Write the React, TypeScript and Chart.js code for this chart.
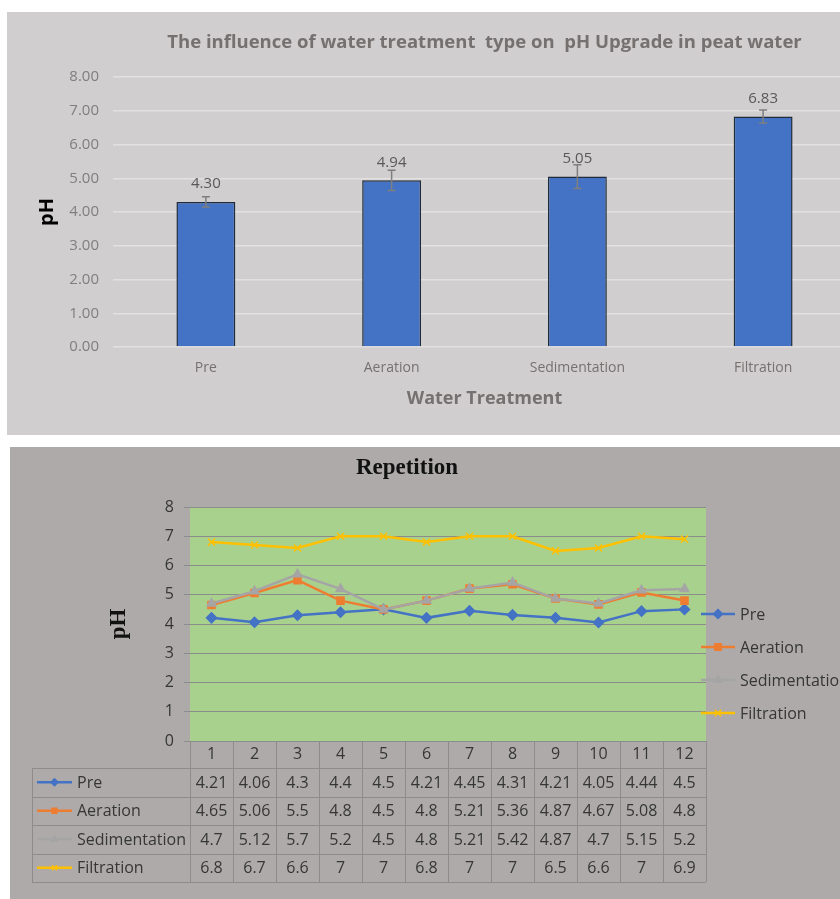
import { useEffect, useRef } from 'react';
import { Chart, registerables } from 'chart.js';
import { drawPoint } from 'chart.js/helpers';
Chart.register(...registerables);

// ---------- Top chart data ----------
const treatments = ['Pre', 'Aeration', 'Sedimentation', 'Filtration'];
const meanPH = [4.30, 4.94, 5.05, 6.83];
const errorPH = [0.15, 0.30, 0.35, 0.19];
const topTitle = 'The influence of water treatment  type on  pH Upgrade in peat water';

// ---------- Bottom chart data ----------
const repetitions = ['1', '2', '3', '4', '5', '6', '7', '8', '9', '10', '11', '12'];
const prePH = [4.21, 4.06, 4.3, 4.4, 4.5, 4.21, 4.45, 4.31, 4.21, 4.05, 4.44, 4.5];
const aerationPH = [4.65, 5.06, 5.5, 4.8, 4.5, 4.8, 5.21, 5.36, 4.87, 4.67, 5.08, 4.8];
const sedimentationPH = [4.7, 5.12, 5.7, 5.2, 4.5, 4.8, 5.21, 5.42, 4.87, 4.7, 5.15, 5.2];
const filtrationPH = [6.8, 6.7, 6.6, 7, 7, 6.8, 7, 7, 6.5, 6.6, 7, 6.9];
const seriesNames = ['Pre', 'Aeration', 'Sedimentation', 'Filtration'];
const seriesColors = ['#4472C4', '#ED7D31', '#A5A5A5', '#FFC000'];
const seriesMarkers = ['rectRot', 'rect', 'triangle', 'crossRot'];
const seriesData = [prePH, aerationPH, sedimentationPH, filtrationPH];

const SANS = "'Open Sans', sans-serif";
const SERIF = "'Liberation Serif', serif";

const errorBarPlugin = {
  id: 'errorBars',
  afterDatasetsDraw(chart: any) {
    const { ctx } = chart;
    const ys = chart.scales.y;
    const meta = chart.getDatasetMeta(0);
    ctx.save();
    meta.data.forEach((bar: any, i: number) => {
      const x = bar.x;
      const yTop = ys.getPixelForValue(meanPH[i] + errorPH[i]);
      const yBot = ys.getPixelForValue(meanPH[i] - errorPH[i]);
      ctx.strokeStyle = '#7f7f7f';
      ctx.lineWidth = 1.5;
      ctx.beginPath();
      ctx.moveTo(x, yTop); ctx.lineTo(x, yBot);
      ctx.moveTo(x - 4, yTop); ctx.lineTo(x + 4, yTop);
      ctx.moveTo(x - 4, yBot); ctx.lineTo(x + 4, yBot);
      ctx.stroke();
      ctx.fillStyle = '#595959';
      ctx.font = `15px ${SANS}`;
      ctx.textAlign = 'center';
      ctx.textBaseline = 'middle';
      ctx.fillText(meanPH[i].toFixed(2), x, bar.y - 18);
    });
    ctx.restore();
  },
};

function drawKey(ctx: CanvasRenderingContext2D, i: number, x0: number, x1: number, y: number, r: number, lw: number) {
  ctx.save();
  ctx.strokeStyle = seriesColors[i];
  ctx.fillStyle = seriesColors[i];
  ctx.lineWidth = lw;
  ctx.beginPath();
  ctx.moveTo(x0, y); ctx.lineTo(x1, y);
  ctx.stroke();
  ctx.lineWidth = 1.5;
  drawPoint(ctx, { pointStyle: seriesMarkers[i] as any, radius: r, rotation: 0, borderWidth: 1.5 } as any, (x0 + x1) / 2, y);
  ctx.restore();
}

const tablePlugin = {
  id: 'repTable',
  beforeDraw(chart: any) {
    const { ctx, chartArea: a } = chart;
    ctx.save();
    ctx.fillStyle = '#A9D18E';
    ctx.fillRect(a.left, a.top, a.right - a.left, a.bottom - a.top);
    ctx.restore();
  },
  afterDraw(chart: any) {
    const { ctx, chartArea: a } = chart;
    const xs = chart.scales.x;
    const n = repetitions.length;
    const step = xs.getPixelForValue(1) - xs.getPixelForValue(0);
    const tableLeft = 22;
    const headerH = 27;
    const rowH = 28.5;
    const headerBottom = a.bottom + headerH;
    const tableBottom = headerBottom + rowH * seriesNames.length;
    ctx.save();
    ctx.strokeStyle = '#8f8b8b';
    ctx.lineWidth = 1;
    const line = (x0: number, y0: number, x1: number, y1: number) => {
      ctx.beginPath(); ctx.moveTo(x0, y0); ctx.lineTo(x1, y1); ctx.stroke();
    };
    for (let j = 0; j <= n; j++) {
      const x = Math.round(xs.getPixelForValue(0) - step / 2 + j * step) + 0.5;
      line(x, a.bottom, x, tableBottom);
    }
    line(tableLeft + 0.5, headerBottom, tableLeft + 0.5, tableBottom);
    for (let r = 0; r <= seriesNames.length; r++) {
      const y = Math.round(headerBottom + r * rowH) + 0.5;
      line(tableLeft, y, a.right, y);
    }
    ctx.font = `16px ${SANS}`;
    ctx.textBaseline = 'middle';
    seriesNames.forEach((name, i) => {
      const yc = headerBottom + rowH * (i + 0.5);
      drawKey(ctx, i, tableLeft + 5, tableLeft + 40, yc, 3.5, 2.5);
      ctx.fillStyle = '#363636';
      ctx.textAlign = 'left';
      ctx.fillText(name, tableLeft + 45, yc + 1);
      ctx.textAlign = 'center';
      seriesData[i].forEach((v, j) => {
        ctx.fillText(String(v), xs.getPixelForValue(j), yc + 1);
      });
    });
    // right legend
    seriesNames.forEach((name, i) => {
      const yc = 167 + i * 33;
      drawKey(ctx, i, a.right - 5, a.right + 29, yc, 4.5, 2.5);
      ctx.fillStyle = '#363636';
      ctx.textAlign = 'left';
      ctx.fillText(name, a.right + 34, yc + 1);
    });
    // title
    ctx.font = `bold 23px ${SERIF}`;
    ctx.fillStyle = '#111111';
    ctx.textAlign = 'center';
    ctx.fillText('Repetition', 397, 21);
    ctx.restore();
  },
};

export default function App() {
  const topRef = useRef<HTMLCanvasElement>(null);
  const botRef = useRef<HTMLCanvasElement>(null);

  useEffect(() => {
    const c1 = new Chart(topRef.current!, {
      type: 'bar',
      data: {
        labels: treatments,
        datasets: [
          {
            data: meanPH,
            backgroundColor: '#4472C4',
            borderColor: '#1f2a3a',
            borderWidth: 1.5,
            barPercentage: 0.317,
            categoryPercentage: 1,
          },
        ],
      },
      options: {
        animation: false,
        responsive: false,
        devicePixelRatio: 1,
        layout: { padding: 0 },
        plugins: {
          legend: { display: false },
          tooltip: { enabled: false },
          title: {
            display: true,
            text: topTitle,
            fullSize: false,
            color: '#767171',
            font: { family: SANS, size: 18.5, weight: 'bold' },
            padding: { top: 20, bottom: 22.8 },
          },
        },
        scales: {
          x: {
            grid: { display: false, drawTicks: false },
            border: { display: false },
            ticks: { color: '#767171', font: { family: SANS, size: 14 }, padding: 12.6 },
            title: {
              display: true,
              text: 'Water Treatment',
              color: '#767171',
              font: { family: SANS, size: 18, weight: 'bold' },
              padding: { top: 0, bottom: 25 },
            },
            afterFit: (s: any) => { s.height = 88; },
          },
          y: {
            min: 0,
            max: 8,
            ticks: {
              stepSize: 1,
              color: '#7f7f7f',
              font: { family: SANS, size: 15 },
              padding: 14,
              callback: (v: any) => Number(v).toFixed(2),
            },
            grid: { color: '#e2e0e0', lineWidth: 1.5, drawTicks: false },
            border: { display: false },
            title: {
              display: true,
              text: 'pH',
              color: '#000000',
              font: { family: SANS, size: 20, weight: 'bold' },
              padding: { top: 28, bottom: 0 },
            },
            afterFit: (s: any) => { s.width = 106; },
          },
        },
      } as any,
      plugins: [errorBarPlugin],
    });

    const c2 = new Chart(botRef.current!, {
      type: 'line',
      data: {
        labels: repetitions,
        datasets: seriesNames.map((name, i) => ({
          label: name,
          data: seriesData[i],
          borderColor: seriesColors[i],
          backgroundColor: seriesColors[i],
          borderWidth: 2.5,
          pointStyle: seriesMarkers[i] as any,
          pointRadius: 5,
          pointBorderWidth: 1.5,
          pointBackgroundColor: seriesColors[i],
          pointBorderColor: seriesColors[i],
          order: seriesNames.length - i,
          tension: 0,
        })),
      },
      options: {
        animation: false,
        responsive: false,
        devicePixelRatio: 1,
        layout: { padding: { left: 0, right: 174, top: 60, bottom: 0 } },
        plugins: {
          legend: { display: false },
          tooltip: { enabled: false },
          title: { display: false },
        },
        scales: {
          x: {
            offset: true,
            grid: { display: false, drawTicks: false },
            border: { display: false },
            ticks: { color: '#363636', font: { family: SANS, size: 16 }, padding: 4 },
            afterFit: (s: any) => { s.height = 158; },
          },
          y: {
            min: 0,
            max: 8,
            ticks: { stepSize: 1, color: '#363636', font: { family: SANS, size: 16 }, padding: 10 },
            grid: { color: '#8c8c8c', lineWidth: 1, tickLength: 6, tickColor: '#8c8c8c' },
            border: { display: false },
            title: {
              display: true,
              text: 'pH',
              color: '#111111',
              font: { family: SERIF, size: 23, weight: 'bold' },
              padding: { top: 95, bottom: 0 },
            },
            afterFit: (s: any) => { s.width = 180; },
          },
        },
      } as any,
      plugins: [tablePlugin],
    });

    return () => {
      c1.destroy();
      c2.destroy();
    };
  }, []);

  return (
    <>
      <div
        style={{
          position: 'absolute', left: 7, top: 12, width: 833, height: 423,
          background: '#D0CECE', overflow: 'hidden',
        }}
      >
        <canvas ref={topRef} width={849} height={423} style={{ display: 'block', width: 849, height: 423 }} />
      </div>
      <div
        style={{
          position: 'absolute', left: 10, top: 447, width: 830, height: 452,
          background: '#AEAAAA', overflow: 'hidden',
        }}
      >
        <canvas ref={botRef} width={870} height={452} style={{ display: 'block', width: 870, height: 452 }} />
      </div>
    </>
  );
}
